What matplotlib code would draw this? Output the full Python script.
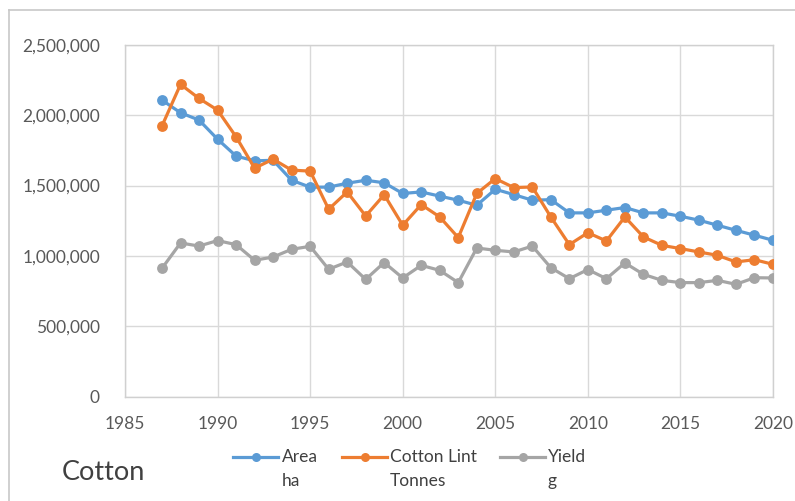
import matplotlib
matplotlib.use("Agg")
import matplotlib.pyplot as plt
from matplotlib.lines import Line2D
from matplotlib.ticker import FuncFormatter, MultipleLocator

plt.rcParams['font.family'] = ['Lato', 'DejaVu Sans']

years = list(range(1987, 2021))

area_ha = [2108000, 2018000, 1966000, 1830000, 1710000, 1676000, 1680000,
           1538000, 1489000, 1489000, 1517000, 1538000, 1520000, 1444000,
           1455000, 1425000, 1396000, 1360000, 1474000, 1436000, 1396000,
           1400000, 1306000, 1306000, 1325000, 1344000, 1306000, 1306000,
           1282000, 1254000, 1218000, 1182000, 1147000, 1111000]

lint_tonnes = [1925000, 2220000, 2120000, 2037000, 1847000, 1624000, 1688000,
               1610000, 1603000, 1332000, 1455000, 1284000, 1435000, 1218000,
               1365000, 1277000, 1130000, 1444000, 1550000, 1486000, 1490000,
               1277000, 1080000, 1165000, 1106000, 1277000, 1135000, 1075000,
               1052000, 1028000, 1004000, 957000, 973000, 940000]

yield_g = [912000, 1092000, 1070000, 1109000, 1080000, 969000, 992000,
           1047000, 1068000, 905000, 957000, 833000, 953000, 843000,
           933000, 897000, 810000, 1056000, 1040000, 1028000, 1070000,
           916000, 838000, 903000, 838000, 950000, 869000, 826000,
           810000, 810000, 826000, 798000, 845000, 843000]

series_names = ["Area", "Cotton Lint", "Yield"]
series_units = ["ha", "Tonnes", "g"]
colors = ["#5B9BD5", "#ED7D31", "#A5A5A5"]
chart_title = "Cotton"

W, H = 795, 501
fig = plt.figure(figsize=(W / 100, H / 100), dpi=100)

# outer chart frame (top and left edges visible)
fig.add_artist(Line2D([9 / W, 1.0], [1 - 10 / H, 1 - 10 / H], color="#C8C8C8", lw=1.2))
fig.add_artist(Line2D([9 / W, 9 / W], [0, 1 - 10 / H], color="#C8C8C8", lw=1.2))

ax = fig.add_axes([125 / W, 1 - 396.5 / H, (773 - 125) / W, (396.5 - 45) / H])

for vals, c in zip([area_ha, lint_tonnes, yield_g], colors):
    ax.plot(years, vals, color=c, lw=2.3, marker="o", markersize=7.8,
            markeredgewidth=0, solid_capstyle="round", zorder=3)

ax.set_xlim(1985, 2020)
ax.set_ylim(0, 2500000)
ax.xaxis.set_major_locator(MultipleLocator(5))
ax.yaxis.set_major_locator(MultipleLocator(500000))
ax.yaxis.set_major_formatter(FuncFormatter(lambda v, p: f"{int(v):,}"))
ax.grid(True, color="#D9D9D9", lw=1.0, zorder=0)
ax.set_axisbelow(True)
for s in ax.spines.values():
    s.set_color("#D0D0D0")
    s.set_linewidth(1.0)
ax.tick_params(length=0, labelsize=12.5, labelcolor="#595959")
ax.tick_params(axis="y", pad=18)
ax.tick_params(axis="x", pad=14)

# legend drawn in figure pixels: handle line + marker, two-line label
leg_handles_x = [(233, 278), (342, 387), (500, 545)]
leg_text_x = [282, 390, 548]
ly = 457
for (x0, x1), tx, c, name, unit in zip(leg_handles_x, leg_text_x, colors,
                                       series_names, series_units):
    fig.add_artist(Line2D([x0 / W, x1 / W], [1 - ly / H, 1 - ly / H], color=c, lw=2.3))
    fig.add_artist(Line2D([(x0 + x1) / 2 / W], [1 - ly / H], color=c, marker="o",
                          markersize=6.5, markeredgewidth=0))
    fig.text(tx / W, 1 - ly / H, name, ha="left", va="center", fontsize=12.5, color="#404040")
    fig.text(tx / W, 1 - 481 / H, unit, ha="left", va="center", fontsize=12.5, color="#404040")

fig.text(62 / W, 1 - 472 / H, chart_title, ha="left", va="center", fontsize=19.5, color="#404040")

fig.savefig("out.png", dpi=100, facecolor="white")
